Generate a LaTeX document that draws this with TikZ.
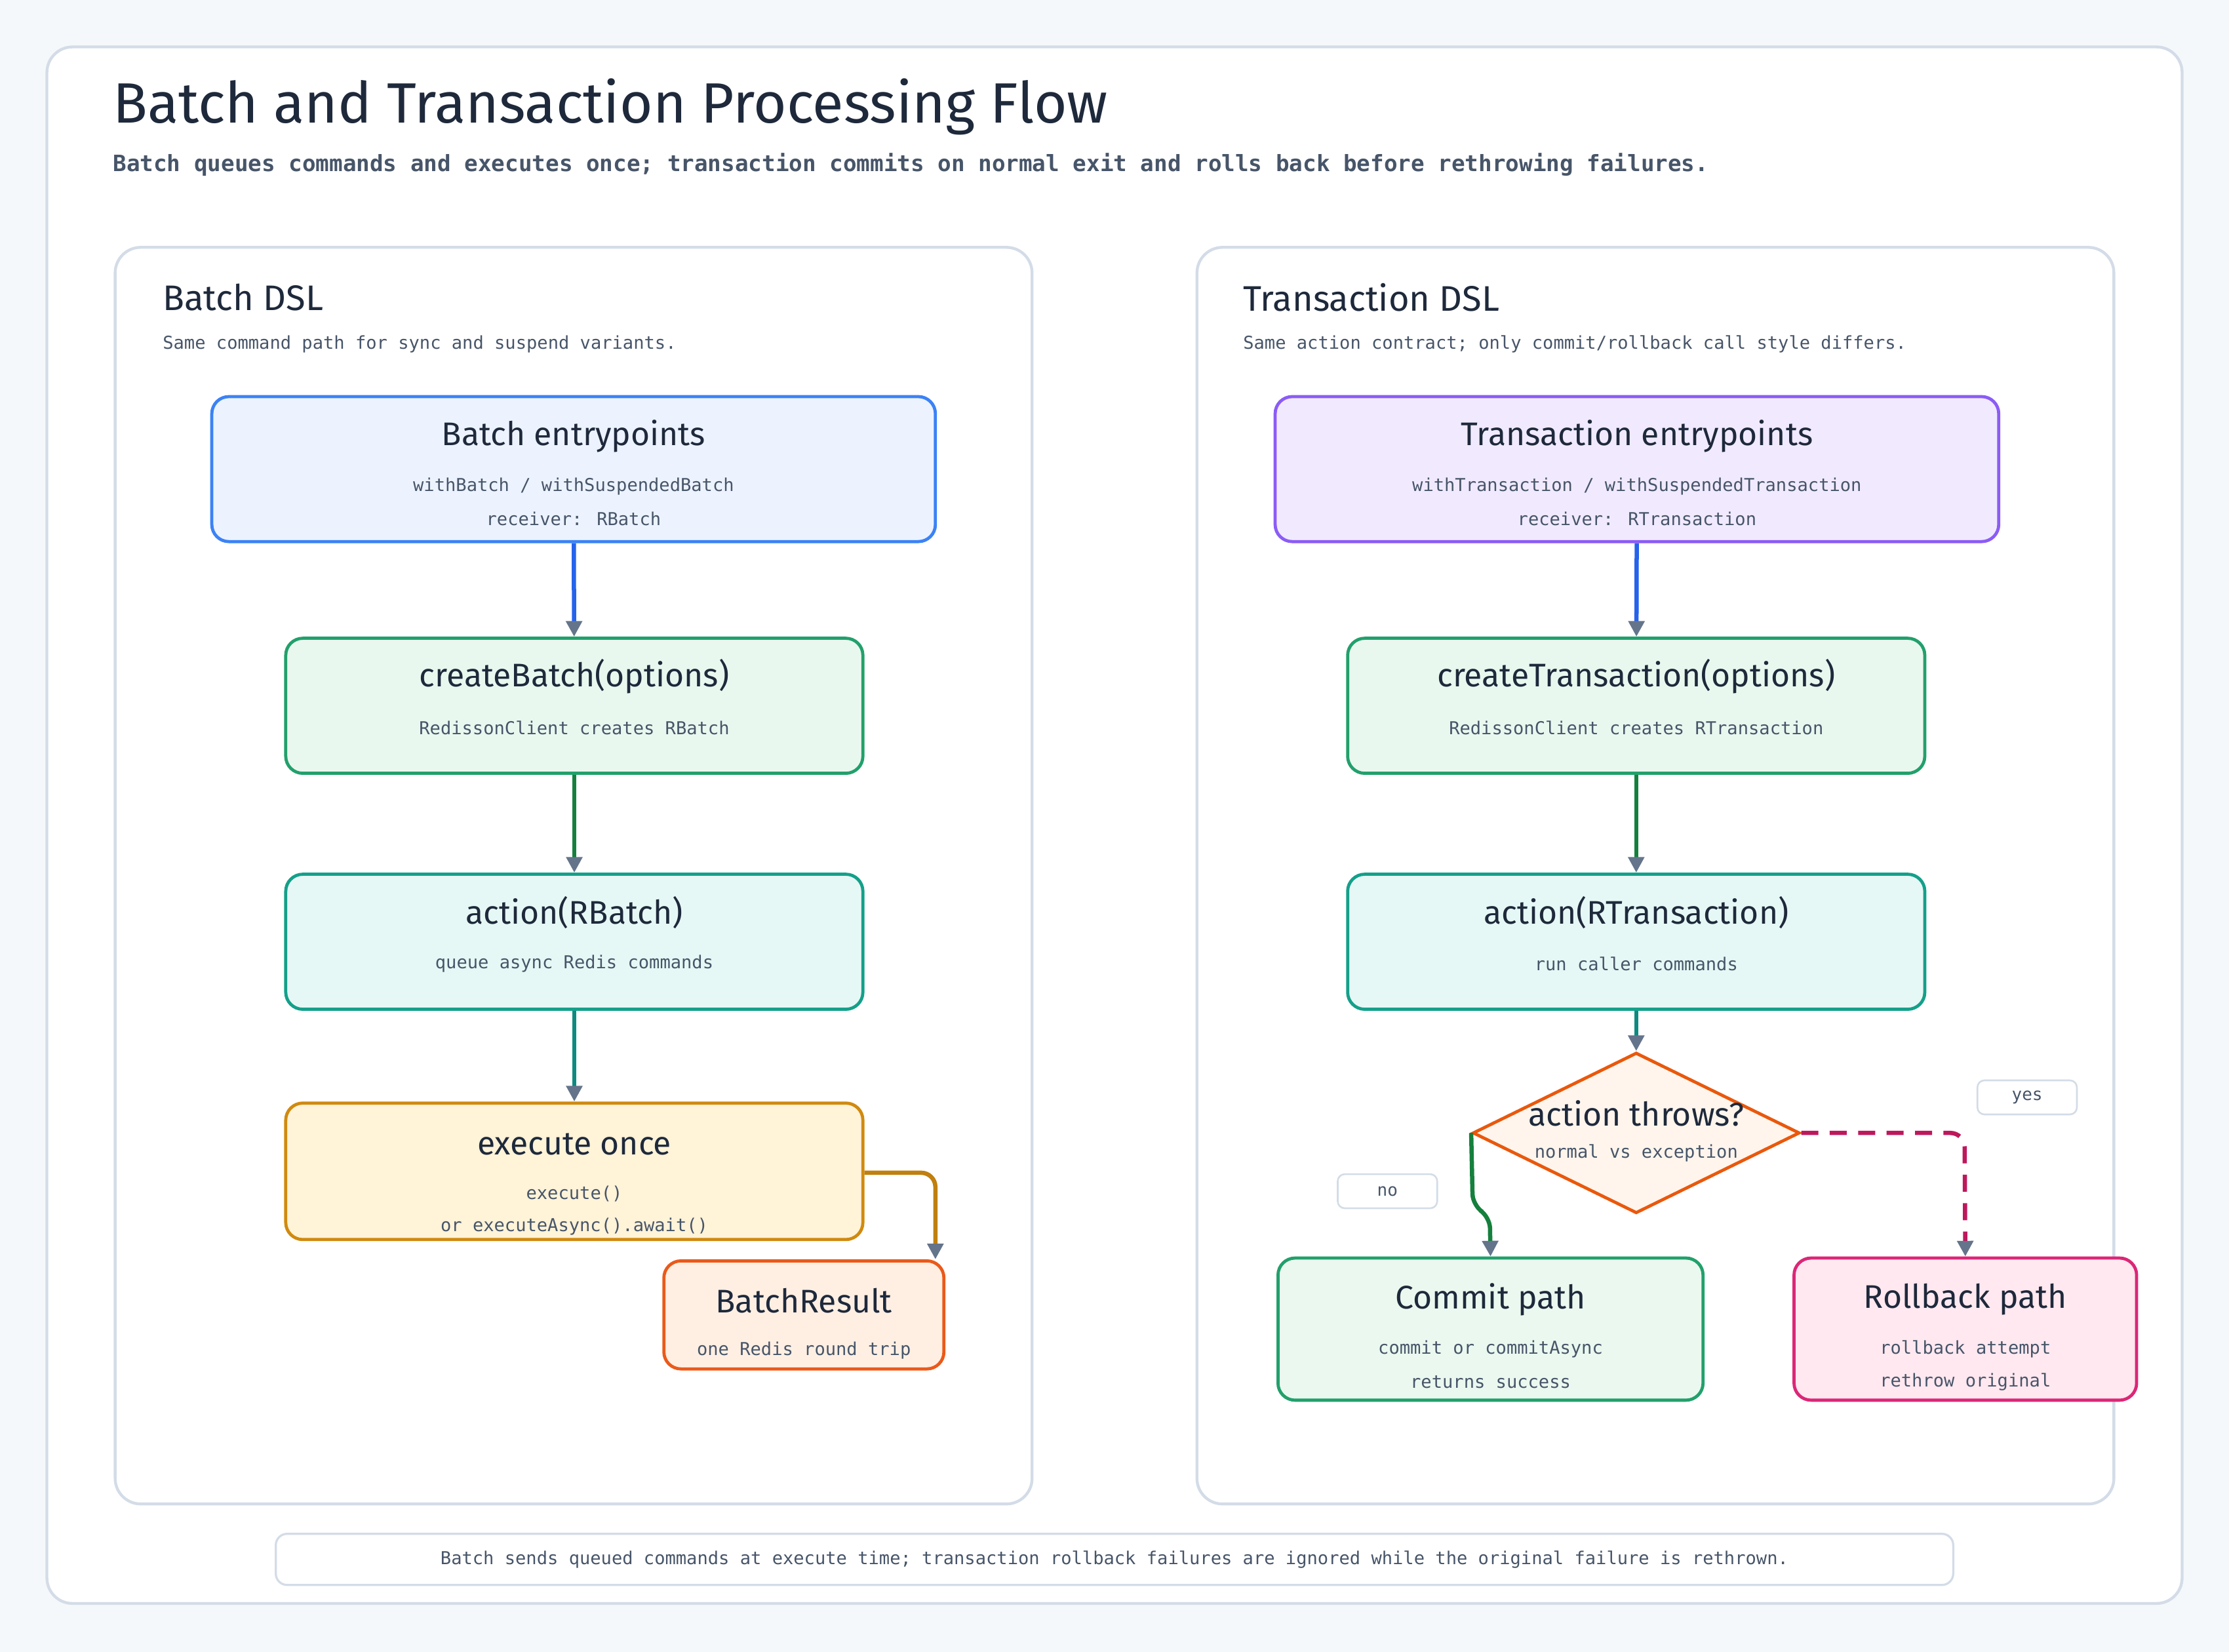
\documentclass[tikz,border=0pt]{standalone}
\usepackage{fontspec}
\setmainfont{Fira Sans}
\newfontfamily\monof{DejaVu Sans Mono}
\usetikzlibrary{arrows.meta,shapes.geometric}
\definecolor{ink}{HTML}{1E293B}
\definecolor{sub}{HTML}{475569}
\definecolor{line}{HTML}{D3DCE7}
\definecolor{tip}{HTML}{64748B}
\definecolor{bg}{HTML}{F5F8FB}
\tikzset{
  box/.style={draw, line width=2.2pt, rounded corners=12pt, inner sep=0pt},
  ttl/.style={font=\fontsize{23}{27}\selectfont, text=ink, anchor=center},
  sm/.style={font=\monof\fontsize{12.5}{15}\selectfont, text=sub, anchor=center},
  conn/.style={line width=3pt, -{Triangle[length=11pt,width=11pt,color=tip]}},
  panel/.style={draw=line, line width=2pt, fill=white, rounded corners=18pt},
  tag/.style={draw=line, line width=1.2pt, fill=white, rounded corners=5pt, minimum width=70pt, minimum height=24pt, font=\monof\fontsize{12}{14}\selectfont, text=sub}
}
\begin{document}
\begin{tikzpicture}[x=1pt,y=-1pt]
\useasboundingbox (0,0) rectangle (1568,1162);
\fill[bg] (0,0) rectangle (1568,1162);
\draw[panel] (33,33) rectangle (1535,1128);
\node[anchor=west, font=\fontsize{40}{46}\selectfont, text=ink] (title) at (76,75) {Batch and Transaction Processing Flow};
\node[anchor=west, font=\monof\fontsize{15.8}{20}\selectfont\bfseries, text=sub] (subt) at (76,116) {Batch queues commands and executes once; transaction commits on normal exit and rolls back before rethrowing failures.};
% panels
\draw[panel] (81,174) rectangle (726,1058);
\draw[panel] (842,174) rectangle (1487,1058);
\node[anchor=west, font=\fontsize{25}{30}\selectfont, text=ink] (lp) at (111,209) {Batch DSL};
\node[sm, anchor=west] (lps) at (111,242) {Same command path for sync and suspend variants.};
\node[anchor=west, font=\fontsize{25}{30}\selectfont, text=ink] (rp) at (871,209) {Transaction DSL};
\node[sm, anchor=west] (rps) at (871,242) {Same action contract; only commit/rollback call style differs.};
% left nodes
\node[box, draw={rgb,255:red,59;green,130;blue,246}, fill={rgb,255:red,236;green,243;blue,255}, minimum width=509pt, minimum height=102pt] (be) at (403.5,330) {};
\node[ttl] at (403.5,307) {Batch entrypoints};
\node[sm] at (403.5,342) {withBatch / withSuspendedBatch};
\node[sm] at (403.5,365) {receiver: RBatch};
\node[box, draw={rgb,255:red,34;green,160;blue,107}, fill={rgb,255:red,233;green,248;blue,239}, minimum width=406pt, minimum height=95pt] (cb) at (404,496.5) {};
\node[ttl] at (404,476) {createBatch(options)};
\node[sm] at (404,512) {RedissonClient creates RBatch};
\node[box, draw={rgb,255:red,20;green,160;blue,138}, fill={rgb,255:red,230;green,248;blue,245}, minimum width=406pt, minimum height=95pt] (ab) at (404,662.5) {};
\node[ttl] at (404,642) {action(RBatch)};
\node[sm] at (404,678) {queue async Redis commands};
\node[box, draw={rgb,255:red,208;green,138;blue,15}, fill={rgb,255:red,255;green,243;blue,216}, minimum width=406pt, minimum height=96pt] (ex) at (404,824) {};
\node[ttl] at (404,805) {execute once};
\node[sm] at (404,840) {execute()};
\node[sm] at (404,863) {or executeAsync().await()};
\node[box, draw={rgb,255:red,234;green,90;blue,26}, fill={rgb,255:red,255;green,239;blue,227}, minimum width=197pt, minimum height=76pt] (br) at (565.5,925) {};
\node[ttl] at (565.5,915) {BatchResult};
\node[sm] at (565.5,950) {one Redis round trip};
\draw[conn, draw={rgb,255:red,37;green,99;blue,235}] (be) -- (cb);
\draw[conn, draw={rgb,255:red,21;green,128;blue,61}] (cb) -- (ab);
\draw[conn, draw={rgb,255:red,15;green,138;blue,128}] (ab) -- (ex);
\draw[conn, draw={rgb,255:red,192;green,127;blue,14}, rounded corners=10pt] (ex.east |- 0,825) -- (658,825) -- (br.north east -| 658,0);
% right nodes
\node[box, draw={rgb,255:red,139;green,92;blue,246}, fill={rgb,255:red,241;green,234;blue,255}, minimum width=509pt, minimum height=102pt] (te) at (1151.5,330) {};
\node[ttl] at (1151.5,307) {Transaction entrypoints};
\node[sm] at (1151.5,342) {withTransaction / withSuspendedTransaction};
\node[sm] at (1151.5,365) {receiver: RTransaction};
\node[box, draw={rgb,255:red,34;green,160;blue,107}, fill={rgb,255:red,233;green,248;blue,239}, minimum width=406pt, minimum height=95pt] (ct) at (1151,496.5) {};
\node[ttl] at (1151,476) {createTransaction(options)};
\node[sm] at (1151,512) {RedissonClient creates RTransaction};
\node[box, draw={rgb,255:red,20;green,160;blue,138}, fill={rgb,255:red,230;green,248;blue,245}, minimum width=406pt, minimum height=95pt] (at) at (1151,662.5) {};
\node[ttl] at (1151,642) {action(RTransaction)};
\node[sm] at (1151,678) {run caller commands};
\node[diamond, draw={rgb,255:red,234;green,88;blue,12}, line width=2.2pt, fill={rgb,255:red,255;green,245;blue,236}, minimum width=230pt, minimum height=113pt, inner sep=0pt, aspect=2] (dt) at (1151,797) {};
\node[ttl] at (1151,783) {action throws?};
\node[sm] at (1151,811) {normal vs exception};
\node[box, draw={rgb,255:red,34;green,160;blue,107}, fill={rgb,255:red,234;green,248;blue,239}, minimum width=299pt, minimum height=100pt] (cp) at (1048.5,935) {};
\node[ttl] at (1048.5,914) {Commit path};
\node[sm] at (1048.5,949) {commit or commitAsync};
\node[sm] at (1048.5,972) {returns success};
\node[box, draw={rgb,255:red,219;green,39;blue,119}, fill={rgb,255:red,255;green,232;blue,240}, minimum width=241pt, minimum height=100pt] (rb) at (1382.5,935) {};
\node[ttl] at (1382.5,914) {Rollback path};
\node[sm] at (1382.5,949) {rollback attempt};
\node[sm] at (1382.5,972) {rethrow original};
\draw[conn, draw={rgb,255:red,37;green,99;blue,235}] (te) -- (ct);
\draw[conn, draw={rgb,255:red,21;green,128;blue,61}] (ct) -- (at);
\draw[conn, draw={rgb,255:red,15;green,138;blue,128}] (at) -- (dt);
\draw[conn, draw={rgb,255:red,21;green,128;blue,61}, rounded corners=8pt] (dt.west) -- (1036,848) -- (1048,856) -- (cp.north);
\draw[conn, draw={rgb,255:red,190;green,24;blue,93}, dash pattern=on 12pt off 8pt, rounded corners=10pt] (dt.east) -- (1382,797) -- (rb.north);
\node[tag] (yes) at (1426,772) {yes};
\node[tag] (no) at (976,838) {no};
% footer
\node[draw=line, line width=1.5pt, fill=white, rounded corners=8pt, minimum width=1180pt, minimum height=36pt, font=\monof\fontsize{12.5}{15}\selectfont, text=sub] (foot) at (784,1097) {Batch sends queued commands at execute time; transaction rollback failures are ignored while the original failure is rethrown.};
\end{tikzpicture}
\end{document}
